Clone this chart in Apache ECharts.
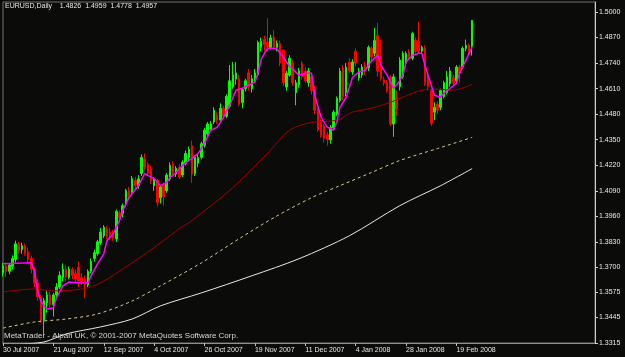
<!DOCTYPE html>
<html>
<head>
<meta charset="utf-8">
<script src="https://cdn.jsdelivr.net/npm/echarts@6/dist/echarts.min.js"></script>
<style>
html, body { margin: 0; padding: 0; background: #0b0c0a; }
#chart { width: 625px; height: 357px; }
</style>
</head>
<body>
<div id="chart"></div>
<script>
// EURUSD daily bars, 30 Jul 2007 .. 26 Feb 2008 : [open, close, low, high]
var ohlc = [
  [1.3672, 1.3708, 1.3652, 1.3723], [1.3708, 1.3680, 1.3650, 1.3725], [1.3680, 1.3712, 1.3665, 1.3722],
  [1.3705, 1.3745, 1.3690, 1.3760], [1.3740, 1.3820, 1.3725, 1.3836], [1.3815, 1.3790, 1.3770, 1.3830],
  [1.3790, 1.3812, 1.3770, 1.3825], [1.3810, 1.3775, 1.3760, 1.3820], [1.3780, 1.3740, 1.3720, 1.3800],
  [1.3745, 1.3690, 1.3670, 1.3760], [1.3690, 1.3620, 1.3600, 1.3700], [1.3620, 1.3550, 1.3530, 1.3640],
  [1.3550, 1.3430, 1.3420, 1.3560], [1.3430, 1.3530, 1.3361, 1.3545], [1.3520, 1.3560, 1.3470, 1.3580],
  [1.3560, 1.3510, 1.3490, 1.3575], [1.3510, 1.3560, 1.3450, 1.3570], [1.3560, 1.3600, 1.3540, 1.3620],
  [1.3600, 1.3660, 1.3590, 1.3680], [1.3650, 1.3690, 1.3630, 1.3720], [1.3690, 1.3650, 1.3630, 1.3710],
  [1.3650, 1.3690, 1.3640, 1.3705], [1.3690, 1.3660, 1.3640, 1.3700], [1.3670, 1.3640, 1.3620, 1.3690],
  [1.3700, 1.3630, 1.3600, 1.3730], [1.3650, 1.3625, 1.3610, 1.3670], [1.3640, 1.3610, 1.3545, 1.3660],
  [1.3610, 1.3680, 1.3600, 1.3690], [1.3680, 1.3730, 1.3670, 1.3745], [1.3745, 1.3775, 1.3730, 1.3790],
  [1.3770, 1.3830, 1.3760, 1.3840], [1.3825, 1.3880, 1.3815, 1.3900], [1.3860, 1.3905, 1.3850, 1.3915],
  [1.3895, 1.3860, 1.3845, 1.3910], [1.3880, 1.3865, 1.3840, 1.3900], [1.3877, 1.3852, 1.3835, 1.3890],
  [1.3845, 1.3985, 1.3830, 1.3995], [1.3978, 1.3953, 1.3940, 1.3990], [1.3973, 1.4014, 1.3955, 1.4025],
  [1.4025, 1.4091, 1.4010, 1.4100], [1.4091, 1.4065, 1.4050, 1.4110], [1.4081, 1.4152, 1.4065, 1.4165],
  [1.4142, 1.4117, 1.4100, 1.4160], [1.4117, 1.4150, 1.4100, 1.4170], [1.4178, 1.4260, 1.4165, 1.4275],
  [1.4250, 1.4210, 1.4195, 1.4280], [1.4225, 1.4178, 1.4165, 1.4235], [1.4200, 1.4142, 1.4125, 1.4215],
  [1.4115, 1.4145, 1.4090, 1.4160], [1.4142, 1.4030, 1.4010, 1.4150], [1.4055, 1.4110, 1.4025, 1.4120],
  [1.4120, 1.4060, 1.4015, 1.4130], [1.4090, 1.4170, 1.4080, 1.4180], [1.4150, 1.4220, 1.4140, 1.4235],
  [1.4225, 1.4180, 1.4165, 1.4240], [1.4175, 1.4205, 1.4160, 1.4215], [1.4210, 1.4160, 1.4150, 1.4225],
  [1.4170, 1.4235, 1.4160, 1.4245], [1.4230, 1.4280, 1.4220, 1.4295], [1.4260, 1.4300, 1.4240, 1.4315],
  [1.4320, 1.4175, 1.4130, 1.4345], [1.4178, 1.4260, 1.4165, 1.4270], [1.4230, 1.4260, 1.4210, 1.4275],
  [1.4260, 1.4330, 1.4250, 1.4340], [1.4320, 1.4398, 1.4310, 1.4410], [1.4380, 1.4430, 1.4370, 1.4440],
  [1.4400, 1.4430, 1.4390, 1.4445], [1.4440, 1.4500, 1.4430, 1.4515], [1.4475, 1.4450, 1.4430, 1.4490],
  [1.4450, 1.4510, 1.4440, 1.4535], [1.4510, 1.4470, 1.4455, 1.4520], [1.4470, 1.4570, 1.4460, 1.4580],
  [1.4520, 1.4650, 1.4510, 1.4730], [1.4620, 1.4680, 1.4610, 1.4745], [1.4660, 1.4690, 1.4630, 1.4745],
  [1.4660, 1.4530, 1.4520, 1.4680], [1.4540, 1.4605, 1.4510, 1.4615], [1.4610, 1.4650, 1.4595, 1.4660],
  [1.4690, 1.4620, 1.4600, 1.4710], [1.4610, 1.4660, 1.4590, 1.4680], [1.4660, 1.4690, 1.4640, 1.4710],
  [1.4680, 1.4845, 1.4670, 1.4855], [1.4820, 1.4850, 1.4800, 1.4870], [1.4860, 1.4835, 1.4800, 1.4880],
  [1.4847, 1.4822, 1.4800, 1.4969], [1.4820, 1.4868, 1.4810, 1.4885], [1.4872, 1.4822, 1.4810, 1.4908],
  [1.4820, 1.4840, 1.4800, 1.4855], [1.4840, 1.4740, 1.4725, 1.4855], [1.4806, 1.4640, 1.4625, 1.4810],
  [1.4618, 1.4688, 1.4600, 1.4700], [1.4680, 1.4765, 1.4670, 1.4780], [1.4740, 1.4640, 1.4625, 1.4755],
  [1.4590, 1.4640, 1.4525, 1.4655], [1.4630, 1.4700, 1.4615, 1.4715], [1.4740, 1.4670, 1.4655, 1.4750],
  [1.4700, 1.4650, 1.4640, 1.4720], [1.4640, 1.4700, 1.4620, 1.4715], [1.4670, 1.4600, 1.4580, 1.4690],
  [1.4610, 1.4500, 1.4480, 1.4625], [1.4500, 1.4400, 1.4390, 1.4510], [1.4440, 1.4372, 1.4360, 1.4455],
  [1.4420, 1.4357, 1.4335, 1.4430], [1.4375, 1.4350, 1.4320, 1.4390], [1.4350, 1.4413, 1.4330, 1.4425],
  [1.4410, 1.4490, 1.4400, 1.4500], [1.4480, 1.4560, 1.4470, 1.4570], [1.4550, 1.4700, 1.4540, 1.4715],
  [1.4715, 1.4570, 1.4550, 1.4730], [1.4590, 1.4720, 1.4570, 1.4740], [1.4745, 1.4700, 1.4690, 1.4765],
  [1.4695, 1.4745, 1.4680, 1.4760], [1.4800, 1.4740, 1.4725, 1.4815], [1.4665, 1.4700, 1.4650, 1.4715],
  [1.4680, 1.4720, 1.4665, 1.4735], [1.4725, 1.4700, 1.4680, 1.4745], [1.4715, 1.4820, 1.4700, 1.4830],
  [1.4815, 1.4770, 1.4755, 1.4825], [1.4790, 1.4855, 1.4775, 1.4918], [1.4880, 1.4700, 1.4670, 1.4945],
  [1.4775, 1.4660, 1.4650, 1.4860], [1.4655, 1.4640, 1.4625, 1.4670], [1.4640, 1.4600, 1.4590, 1.4655],
  [1.4670, 1.4430, 1.4420, 1.4680], [1.4430, 1.4670, 1.4365, 1.4685], [1.4560, 1.4510, 1.4470, 1.4600],
  [1.4620, 1.4755, 1.4600, 1.4770], [1.4670, 1.4790, 1.4660, 1.4800], [1.4740, 1.4790, 1.4720, 1.4800],
  [1.4795, 1.4775, 1.4760, 1.4810], [1.4765, 1.4890, 1.4755, 1.4900], [1.4855, 1.4800, 1.4790, 1.4870],
  [1.4850, 1.4800, 1.4790, 1.4950], [1.4800, 1.4820, 1.4790, 1.4830], [1.4815, 1.4640, 1.4625, 1.4830],
  [1.4670, 1.4620, 1.4600, 1.4680], [1.4600, 1.4433, 1.4420, 1.4610], [1.4490, 1.4515, 1.4450, 1.4540],
  [1.4530, 1.4500, 1.4480, 1.4545], [1.4515, 1.4600, 1.4500, 1.4610], [1.4570, 1.4640, 1.4560, 1.4650],
  [1.4590, 1.4670, 1.4580, 1.4700], [1.4635, 1.4700, 1.4620, 1.4720], [1.4665, 1.4640, 1.4625, 1.4680],
  [1.4650, 1.4720, 1.4640, 1.4730], [1.4720, 1.4690, 1.4640, 1.4730], [1.4720, 1.4815, 1.4710, 1.4825],
  [1.4815, 1.4830, 1.4800, 1.4860], [1.4830, 1.4800, 1.4785, 1.4840], [1.4826, 1.4957, 1.4778, 1.4959]
];

// moving averages: [bar index, value]
var maFast = [
  [0, 1.3718], [9, 1.3723], [10, 1.3683], [11, 1.3580], [12, 1.3529], [13, 1.3504], [14, 1.3488],
  [16, 1.3494], [17, 1.3545], [19, 1.3606], [21, 1.3626], [25, 1.3621], [27, 1.3621], [28, 1.3657],
  [30, 1.3718], [32, 1.3769], [33, 1.3836], [35, 1.3872], [37, 1.3938], [38, 1.3989], [40, 1.4055],
  [43, 1.4116], [45, 1.4178], [46, 1.4168], [48, 1.4152], [50, 1.4116], [52, 1.4132], [53, 1.4157],
  [55, 1.4183], [57, 1.4219], [59, 1.4244], [60, 1.4254], [62, 1.4280], [64, 1.4331], [66, 1.4398],
  [68, 1.4413], [70, 1.4464], [72, 1.4525], [74, 1.4602], [76, 1.4612], [78, 1.4627], [80, 1.4643],
  [81, 1.4690], [82, 1.4760], [84, 1.4816], [86, 1.4816], [87, 1.4812], [89, 1.4770], [91, 1.4724],
  [93, 1.4694], [94, 1.4678], [96, 1.4688], [98, 1.4688], [99, 1.4576], [101, 1.4464], [103, 1.4414],
  [105, 1.4398], [106, 1.4439], [107, 1.4515], [109, 1.4566], [111, 1.4668], [113, 1.4694], [115, 1.4704],
  [117, 1.4750], [119, 1.4781], [120, 1.4729], [122, 1.4678], [124, 1.4612], [125, 1.4627], [127, 1.4678],
  [128, 1.4745], [130, 1.4780], [132, 1.4790], [133, 1.4790], [134, 1.4729], [136, 1.4627], [137, 1.4576],
  [139, 1.4566], [140, 1.4586], [142, 1.4612], [144, 1.4637], [145, 1.4688], [147, 1.4755], [149, 1.4822]
];
var maMid = [
  [0, 1.3575], [10, 1.3590], [16, 1.3580], [25, 1.3590], [31, 1.3621], [41, 1.3723], [51, 1.3836],
  [56, 1.3897], [60, 1.3938], [73, 1.4106], [84, 1.4280], [91, 1.4398], [98, 1.4438], [106, 1.4449],
  [111, 1.4490], [117, 1.4510], [123, 1.4540], [127, 1.4566], [133, 1.4602], [138, 1.4607], [143, 1.4602],
  [149, 1.4632]
];
var maSlow = [
  [0, 1.3391], [10, 1.3422], [20, 1.3437], [30, 1.3463], [41, 1.3529], [50, 1.3606], [63, 1.3723],
  [75, 1.3846], [86, 1.3953], [98, 1.4055], [107, 1.4116], [117, 1.4183], [126, 1.4244], [138, 1.4305],
  [149, 1.4362]
];
var maLong = [
  [0, 1.3284], [4, 1.3305], [13, 1.3320], [20, 1.3361], [31, 1.3397], [41, 1.3437], [50, 1.3504],
  [63, 1.3570], [79, 1.3657], [94, 1.3744], [110, 1.3861], [126, 1.4014], [139, 1.4116], [149, 1.4203]
];

var priceTicks = [1.3315, 1.3445, 1.3575, 1.3700, 1.3830, 1.3960, 1.4090, 1.4220,
                  1.4350, 1.4480, 1.4610, 1.4740, 1.4870, 1.5000];
var holidays = ['2007-12-25', '2008-01-01'];
var emptySlots = 39;   // room on the right of the last bar
var labelEvery = 16;   // one date label every 16 bars

var monthNames = ['Jan', 'Feb', 'Mar', 'Apr', 'May', 'Jun', 'Jul', 'Aug', 'Sep', 'Oct', 'Nov', 'Dec'];
var days = [];
var d = new Date(Date.UTC(2007, 6, 30));
while (days.length < ohlc.length) {
  var wd = d.getUTCDay();
  var iso = d.toISOString().slice(0, 10);
  if (wd !== 0 && wd !== 6 && holidays.indexOf(iso) < 0) {
    days.push(d.getUTCDate() + ' ' + monthNames[d.getUTCMonth()] + ' ' + d.getUTCFullYear());
  }
  d.setUTCDate(d.getUTCDate() + 1);
}
var categories = days.concat(new Array(emptySlots).fill(''));

var last = ohlc[ohlc.length - 1];
var font = 'Liberation Sans';
var fontSize = 7;
var showEvery = function (i, v) { return v !== '' && i % labelEvery === 0; };

var chart = echarts.init(document.getElementById('chart'));
chart.setOption({
  backgroundColor: '#0b0c0a',
  animation: false,
  textStyle: { fontFamily: font },
  title: {
    text: 'EURUSD,Daily    ' + last[0].toFixed(4) + '  ' + last[3].toFixed(4) + '  ' +
          last[2].toFixed(4) + '  ' + last[1].toFixed(4),
    left: 5,
    top: 3,
    padding: 0,
    textStyle: { color: '#e8e8e8', fontSize: fontSize, fontWeight: 'normal', fontFamily: font }
  },
  graphic: [{
    type: 'text',
    left: 4,
    top: 332,
    style: {
      text: 'MetaTrader - Alpari UK, \u00a9 2001-2007 MetaQuotes Software Corp.',
      fill: '#d8d8d8',
      font: '8px "Liberation Sans"'
    },
    z: 100
  }],
  grid: {
    left: 2, right: 30, top: 2, bottom: 14,
    show: true, borderColor: '#707070', borderWidth: 1
  },
  xAxis: {
    type: 'category',
    data: categories,
    boundaryGap: false,
    axisLine: { lineStyle: { color: '#909090', width: 1 } },
    axisTick: { show: true, interval: showEvery, length: 3, lineStyle: { color: '#c0c0c0' } },
    axisLabel: {
      interval: showEvery, align: 'left', margin: 4,
      color: '#e8e8e8', fontSize: fontSize, fontFamily: font
    },
    splitLine: { show: false }
  },
  yAxis: {
    type: 'value',
    position: 'right',
    min: 1.3315,
    max: 1.5051,
    scale: true,
    axisLine: { show: true, lineStyle: { color: '#d0d0d0', width: 1 } },
    axisTick: { show: true, length: 3, customValues: priceTicks, lineStyle: { color: '#d0d0d0' } },
    axisLabel: {
      customValues: priceTicks, margin: 4, color: '#e8e8e8', fontSize: fontSize, fontFamily: font,
      formatter: function (v) { return v.toFixed(4); }
    },
    splitLine: { show: false }
  },
  series: [
    {
      type: 'candlestick',
      data: ohlc,
      barWidth: 2,
      clip: false,
      itemStyle: {
        color: '#00ff00', color0: '#ff0000',
        borderColor: '#00ff00', borderColor0: '#ff0000', borderWidth: 1
      },
      markLine: {
        silent: true,
        symbol: ['none', 'none'],
        lineStyle: { opacity: 0 },
        data: [{ yAxis: last[1] }],
        label: {
          position: 'end', distance: 2,
          formatter: function () { return last[1].toFixed(4); },
          color: '#000', backgroundColor: '#ffffff', padding: [1, 2, 0, 2],
          fontSize: fontSize, fontFamily: font
        }
      },
      z: 2
    },
    {
      type: 'line', data: maMid, showSymbol: false, smooth: 0.3,
      lineStyle: { color: '#a00000', width: 1 }, z: 3
    },
    {
      type: 'line', data: maSlow, showSymbol: false, smooth: 0.3,
      lineStyle: { color: '#d8c890', width: 1, type: [3, 3] }, z: 3
    },
    {
      type: 'line', data: maLong, showSymbol: false, smooth: 0.3,
      lineStyle: { color: '#e8e8e8', width: 1 }, z: 3
    },
    {
      type: 'line', data: maFast, showSymbol: false,
      lineStyle: { color: '#ff00ff', width: 1.5 }, z: 4
    }
  ]
});
</script>
</body>
</html>
